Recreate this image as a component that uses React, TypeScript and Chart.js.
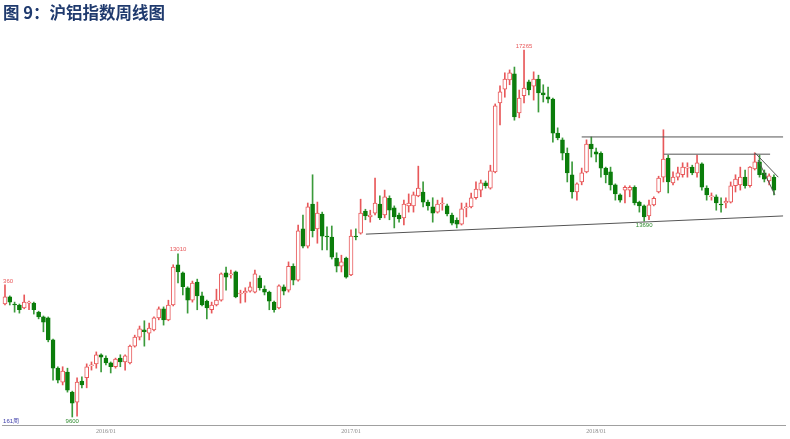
import React, { useEffect, useRef } from 'react';
import { Chart, registerables } from 'chart.js';
Chart.register(...registerables);

// Weekly candles (161 weeks)
const opens = [
  11960, 12110, 11960, 11940, 11880, 11980, 11980, 11790, 11690, 11670,
  11210, 10620, 10330, 10540, 10120, 9910, 10350, 10420, 10670, 10710,
  10900, 10830, 10730, 10650, 10830, 10750, 10730, 11080, 11270, 11420,
  11350, 11420, 11670, 11860, 11630, 11940, 12780, 12610, 12300, 12040,
  12420, 12130, 12020, 11840, 11940, 12040, 12610, 12570, 12630, 12170,
  12190, 12230, 12210, 12500, 12270, 12210, 12000, 11880, 12320, 12250,
  12750, 12460, 13530, 13170, 14050, 13530, 13840, 13380, 13360, 12920,
  12750, 12920, 12570, 13380, 13440, 13900, 13780, 13860, 14050, 13820,
  14170, 13970, 13820, 13760, 14010, 14010, 14220, 14300, 14090, 13990,
  13880, 14050, 14010, 13820, 13710, 13630, 13970, 13990, 14180, 14340,
  14490, 14380, 14720, 16160, 16450, 16640, 16770, 15950, 16310, 16600,
  16510, 16660, 16370, 16290, 16240, 15530, 15390, 15110, 14660, 14300,
  14510, 14720, 15300, 15140, 15110, 14800, 14720, 14450, 14240, 14340,
  14340, 14400, 14090, 14010, 13800, 14030, 14300, 14610, 15010, 14490,
  14610, 14660, 14800, 14820, 14700, 14890, 14380, 14200, 14200, 14050,
  14070, 14090, 14430, 14450, 14610, 14430, 14780, 14930, 14700, 14530,
  14610,
];
const highs = [
  12360, 12130, 12000, 11960, 12150, 12020, 12000, 11810, 11710, 11690,
  11230, 10650, 10650, 10620, 10140, 10420, 10440, 10710, 10750, 10960,
  10920, 10880, 10750, 10830, 10900, 10900, 11100, 11310, 11500, 11610,
  11560, 11690, 11900, 11900, 12040, 12780, 13010, 12630, 12320, 12440,
  12480, 12210, 12040, 12000, 12270, 12610, 12730, 12670, 12650, 12250,
  12300, 12420, 12670, 12550, 12340, 12230, 12020, 12360, 12360, 12840,
  12800, 13610, 13820, 14070, 14660, 14090, 13880, 13570, 13590, 13030,
  12980, 12940, 13510, 13530, 14150, 13940, 13920, 14590, 14220, 14340,
  14220, 14010, 13860, 14130, 14260, 14300, 14840, 14510, 14130, 14180,
  14130, 14180, 14050, 13860, 13760, 14070, 14070, 14280, 14510, 14550,
  14530, 14860, 16140, 16520, 16790, 16850, 16910, 16430, 17265, 16640,
  16810, 16740, 16540, 16490, 16260, 15640, 15430, 15220, 14930, 14490,
  14800, 15390, 15450, 15220, 15140, 14820, 14820, 14470, 14260, 14430,
  14430, 14430, 14110, 14030, 14130, 14200, 14630, 15600, 15070, 14720,
  14820, 14910, 14910, 14860, 15070, 14910, 14430, 14280, 14240, 14180,
  14180, 14510, 14660, 14820, 14760, 14830, 15120, 15070, 14760, 14680,
  14660,
];
const lows = [
  11940, 11940, 11790, 11770, 11860, 11840, 11750, 11650, 11380, 11170,
  10370, 10310, 10270, 10120, 9600, 9620, 10210, 10210, 10580, 10620,
  10540, 10690, 10520, 10620, 10650, 10580, 10710, 11060, 11210, 11080,
  11210, 11400, 11630, 11520, 11610, 11920, 12400, 12150, 11770, 12000,
  11840, 11920, 11650, 11770, 11920, 12020, 12250, 12500, 12090, 11980,
  12000, 12210, 12190, 12250, 12150, 11840, 11790, 11860, 12150, 12210,
  12360, 12440, 13130, 13130, 13360, 13230, 13090, 13090, 12900, 12630,
  12630, 12500, 12550, 13300, 13420, 13720, 13670, 13820, 13720, 13760,
  13720, 13550, 13670, 13610, 13880, 13880, 14200, 13990, 13920, 13670,
  13860, 13920, 13800, 13610, 13550, 13610, 13780, 13970, 14150, 14200,
  14380, 14360, 14700, 15700, 16280, 16540, 15800, 15850, 16160, 16330,
  16220, 15970, 16180, 16160, 15340, 15390, 14970, 14510, 14170, 14130,
  14450, 14700, 15030, 14930, 14610, 14490, 14340, 14130, 14090, 14070,
  14200, 14030, 13880, 13690, 13720, 14010, 14280, 14510, 14280, 14450,
  14550, 14610, 14610, 14660, 14610, 14340, 14130, 14130, 13920, 13880,
  13970, 14070, 14300, 14340, 14380, 14400, 14760, 14610, 14510, 14450,
  14240,
];
const closes = [
  12110, 12000, 11940, 11840, 12000, 12000, 11840, 11690, 11580, 11210,
  10620, 10370, 10560, 10160, 9890, 10330, 10270, 10650, 10690, 10900,
  10850, 10730, 10650, 10810, 10750, 10880, 11080, 11270, 11440, 11380,
  11460, 11670, 11860, 11630, 11940, 12730, 12630, 12320, 12040, 12400,
  12130, 11940, 11880, 11940, 12040, 12590, 12520, 12590, 12110, 12190,
  12230, 12320, 12590, 12300, 12210, 12020, 11840, 12340, 12230, 12750,
  12460, 13490, 13170, 13990, 13490, 13860, 13380, 13360, 12940, 12750,
  12840, 12520, 13380, 13360, 13860, 13800, 13820, 14070, 13760, 14200,
  13920, 13780, 13740, 14050, 14070, 14240, 14380, 14090, 14010, 13860,
  14050, 14070, 13840, 13650, 13630, 13950, 13990, 14180, 14360, 14490,
  14430, 14740, 16100, 16390, 16660, 16790, 15870, 16260, 16470, 16430,
  16660, 16370, 16330, 16240, 15530, 15430, 15110, 14700, 14300, 14470,
  14700, 15300, 15200, 15090, 14800, 14660, 14450, 14260, 14130, 14400,
  14400, 14070, 14010, 13780, 14030, 14170, 14590, 14990, 14510, 14610,
  14700, 14820, 14820, 14700, 14910, 14400, 14240, 14220, 14070, 14030,
  14110, 14430, 14570, 14610, 14430, 14820, 14930, 14660, 14570, 14640,
  14340,
];

// x-axis tick labels (week index -> text)
const tickIdx = [21, 72, 123];
const tickText = ['2016/01', '2017/01', '2018/01'];

// extreme-value annotations
const annoText = ['360', '13010', '17265', '9600', '13690'];
const annoIdx = [0, 36, 108, 14, 133];
const annoPrice = [12360, 13010, 17265, 9600, 13690];
const annoAbove = [true, true, true, false, false];
const annoColor = ['#e8585a', '#e8585a', '#e8585a', '#2e8b2e', '#2e8b2e'];
const weekCountLabel = '161周';

// hand-drawn trend lines (week index, price)
const supportX = [75.1, 161.9];
const supportY = [13420, 13800];
const resist1X = [120.0, 161.9];
const resist1Y = [15450, 15450];
const resist2X = [137.1, 159.2];
const resist2Y = [15090, 15090];
const chanUpX = [156.1, 160.9];
const chanUpY = [15115, 14610];
const chanLoX = [156.7, 160.2];
const chanLoY = [14970, 14240];

const RED = '#e8585a';
const GREEN = '#0b7d0b';
const WICK_GREEN = '#3a9a3a';

const toPts = (xs: number[], ys: number[]) => xs.map((x, i) => ({ x, y: ys[i] }));

export default function App() {
  const ref = useRef<HTMLCanvasElement | null>(null);

  useEffect(() => {
    if (!ref.current) return;
    const up = opens.map((o, i) => closes[i] >= o);
    const bodies = opens.map((o, i) => ({ x: i, y: [Math.min(o, closes[i]), Math.max(o, closes[i])] }));
    const wicks = opens.map((_, i) => ({ x: i, y: [lows[i], highs[i]] }));

    const textPlugin = {
      id: 'annoText',
      afterDatasetsDraw(chart: any) {
        const { ctx, scales, chartArea } = chart;
        const xs = scales.x;
        const ys = scales.y;
        ctx.save();
        ctx.font = '6px "Liberation Sans", Arial, sans-serif';
        for (let k = 0; k < annoText.length; k++) {
          const px = xs.getPixelForValue(annoIdx[k]);
          const py = ys.getPixelForValue(annoPrice[k]);
          ctx.fillStyle = annoColor[k];
          ctx.textAlign = annoIdx[k] === 0 ? 'left' : 'center';
          ctx.textBaseline = annoAbove[k] ? 'bottom' : 'top';
          const tx = annoIdx[k] === 0 ? chartArea.left + 1 : px;
          ctx.fillText(annoText[k], tx, annoAbove[k] ? py - 1 : py + 1);
        }
        ctx.fillStyle = '#3a3aa8';
        ctx.textAlign = 'left';
        ctx.textBaseline = 'bottom';
        ctx.fillText(weekCountLabel, chartArea.left + 1, chartArea.bottom - 1);
        ctx.restore();
      },
    };

    const lineDs = (xs: number[], ys: number[]) => ({
      type: 'line' as const,
      data: toPts(xs, ys),
      borderColor: '#555555',
      borderWidth: 1,
      pointRadius: 0,
      fill: false,
      tension: 0,
      order: 0,
    });

    const chart = new Chart(ref.current, {
      type: 'bar',
      data: {
        datasets: [
          lineDs(supportX, supportY),
          lineDs(resist1X, resist1Y),
          lineDs(resist2X, resist2Y),
          lineDs(chanUpX, chanUpY),
          lineDs(chanLoX, chanLoY),
          {
            type: 'bar',
            data: bodies as any,
            grouped: false,
            barThickness: 4,
            backgroundColor: up.map((u) => (u ? '#ffffff' : GREEN)),
            borderColor: up.map((u) => (u ? RED : GREEN)),
            borderWidth: 1,
            borderSkipped: false,
            order: 1,
          } as any,
          {
            type: 'bar',
            data: wicks as any,
            grouped: false,
            barThickness: 1,
            backgroundColor: up.map((u) => (u ? RED : WICK_GREEN)),
            borderWidth: 0,
            order: 2,
          } as any,
        ],
      },
      options: {
        animation: false,
        responsive: false,
        devicePixelRatio: 1,
        layout: { padding: { top: 30, left: 2.1, right: 5, bottom: 0 } },
        plugins: { legend: { display: false }, tooltip: { enabled: false }, title: { display: false } },
        scales: {
          x: {
            type: 'linear',
            min: -0.6,
            max: 162.3,
            offset: false,
            grid: { display: false, drawTicks: false },
            border: { display: true, color: '#a0a0a0', width: 1 },
            afterBuildTicks: (axis: any) => {
              axis.ticks = tickIdx.map((v) => ({ value: v }));
            },
            afterFit: (scale: any) => {
              scale.height = 14;
            },
            ticks: {
              autoSkip: false,
              maxRotation: 0,
              padding: 3,
              color: '#8a8a8a',
              font: { size: 6, family: '"Liberation Serif", serif' },
              callback: (v: any) => {
                const k = tickIdx.indexOf(Number(v));
                return k >= 0 ? tickText[k] : '';
              },
            },
          },
          y: {
            type: 'linear',
            display: false,
            min: 9433,
            max: 17684,
          },
        },
      } as any,
      plugins: [textPlugin],
    });
    return () => chart.destroy();
  }, []);

  return (
    <div style={{ position: 'absolute', left: 0, top: 0, width: 790, height: 439, background: '#fff' }}>
      <canvas ref={ref} width={790} height={439} style={{ position: 'absolute', left: 0, top: 0 }} />
      <div
        style={{
          position: 'absolute',
          left: 3,
          top: 3,
          fontFamily: '"Noto Sans CJK SC", sans-serif',
          fontWeight: 700,
          fontSize: 16.5,
          lineHeight: '18px',
          color: '#1f3a6e',
          whiteSpace: 'nowrap',
        }}
      >
        图 9：沪铝指数周线图
      </div>
    </div>
  );
}
